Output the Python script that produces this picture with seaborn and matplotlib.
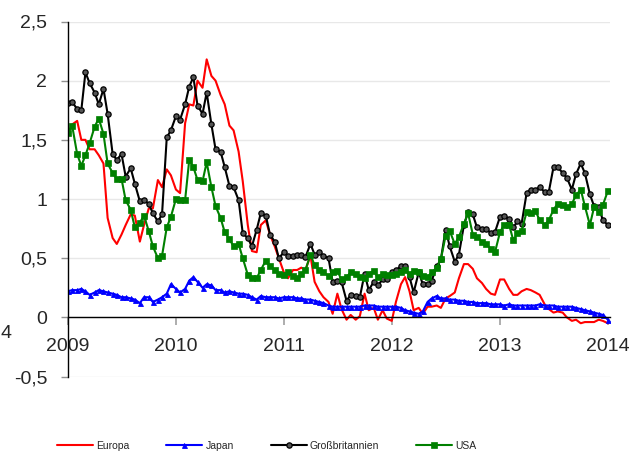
import numpy as np
import pandas as pd
import matplotlib
matplotlib.use('Agg')
import matplotlib.pyplot as plt
import matplotlib.dates as mdates
from matplotlib.ticker import FixedLocator, FixedFormatter
import seaborn as sns

sns.set_style('white')
plt.rcParams['font.family'] = ['Liberation Sans', 'DejaVu Sans']

# semi-monthly observations, Jan 2009 - Jan 2014
dates = pd.date_range('2009-01-01', '2014-01-01', freq='SMS')

europa = [1.55, 1.63, 1.66, 1.50, 1.50, 1.42, 1.42, 1.37, 1.30, 0.84, 0.67, 0.62,
          0.70, 0.78, 0.87, 0.86, 0.64, 0.78, 0.92, 0.92, 1.16, 1.10, 1.25, 1.20,
          1.08, 1.05, 1.64, 1.80, 1.79, 2.00, 1.94, 2.18, 2.04, 2.00, 1.88, 1.80,
          1.62, 1.58, 1.40, 1.15, 0.78, 0.56, 0.55, 0.78, 0.82, 0.70, 0.60, 0.50,
          0.38, 0.33, 0.40, 0.40, 0.42, 0.40, 0.52, 0.30, 0.22, 0.17, 0.13, 0.03,
          0.20, 0.07, -0.02, 0.02, -0.02, 0.01, 0.20, 0.06, 0.08, -0.02, 0.06, -0.01,
          -0.03, 0.13, 0.28, 0.34, 0.22, 0.06, 0.08, 0.03, 0.09, 0.09, 0.10, 0.08,
          0.16, 0.18, 0.21, 0.33, 0.45, 0.45, 0.41, 0.33, 0.29, 0.24, 0.20, 0.19,
          0.32, 0.32, 0.24, 0.19, 0.19, 0.22, 0.24, 0.23, 0.21, 0.19, 0.11, 0.07,
          0.04, 0.05, 0.04, 0.00, -0.03, -0.02, -0.05, -0.04, -0.04, -0.04, -0.02, -0.03,
          -0.05]

japan = [0.22, 0.23, 0.23, 0.24, 0.22, 0.19, 0.21, 0.23, 0.22, 0.21, 0.20, 0.19,
         0.17, 0.17, 0.16, 0.15, 0.12, 0.17, 0.17, 0.13, 0.15, 0.17, 0.20, 0.28,
         0.24, 0.21, 0.24, 0.31, 0.34, 0.30, 0.25, 0.28, 0.27, 0.23, 0.23, 0.21,
         0.22, 0.21, 0.20, 0.20, 0.19, 0.17, 0.15, 0.18, 0.17, 0.17, 0.17, 0.16,
         0.17, 0.17, 0.17, 0.16, 0.16, 0.15, 0.15, 0.14, 0.13, 0.12, 0.10, 0.09,
         0.09, 0.09, 0.09, 0.09, 0.09, 0.09, 0.10, 0.10, 0.10, 0.09, 0.09, 0.09,
         0.09, 0.09, 0.08, 0.06, 0.05, 0.04, 0.03, 0.05, 0.13, 0.16, 0.18, 0.16,
         0.16, 0.15, 0.15, 0.14, 0.14, 0.13, 0.13, 0.12, 0.12, 0.12, 0.11, 0.11,
         0.11, 0.10, 0.11, 0.10, 0.10, 0.10, 0.10, 0.10, 0.10, 0.11, 0.10, 0.10,
         0.10, 0.09, 0.09, 0.09, 0.09, 0.08, 0.07, 0.06, 0.05, 0.04, 0.03, 0.02,
         -0.02]

grossbritannien = [1.81, 1.82, 1.76, 1.75, 2.07, 1.98, 1.90, 1.80, 1.93, 1.72, 1.38, 1.33,
                   1.38, 1.19, 1.26, 1.13, 0.98, 0.99, 0.96, 0.88, 0.81, 0.87, 1.52, 1.58,
                   1.70, 1.67, 1.80, 1.95, 2.03, 1.79, 1.72, 1.90, 1.63, 1.42, 1.40, 1.27,
                   1.11, 1.10, 0.99, 0.71, 0.67, 0.60, 0.74, 0.88, 0.86, 0.70, 0.64, 0.50,
                   0.55, 0.52, 0.52, 0.53, 0.53, 0.51, 0.62, 0.53, 0.55, 0.52, 0.50, 0.30,
                   0.31, 0.30, 0.14, 0.19, 0.18, 0.17, 0.37, 0.23, 0.30, 0.27, 0.32, 0.32,
                   0.38, 0.40, 0.43, 0.43, 0.34, 0.21, 0.38, 0.28, 0.28, 0.31, 0.43, 0.49,
                   0.74, 0.60, 0.47, 0.53, 0.78, 0.89, 0.87, 0.76, 0.75, 0.75, 0.71, 0.72,
                   0.85, 0.86, 0.83, 0.76, 0.81, 0.79, 1.05, 1.08, 1.08, 1.10, 1.06, 1.06,
                   1.27, 1.27, 1.22, 1.18, 1.08, 1.21, 1.30, 1.22, 1.04, 0.94, 0.93, 0.82,
                   0.78]

usa = [1.56, 1.62, 1.38, 1.28, 1.37, 1.47, 1.61, 1.68, 1.55, 1.30, 1.22, 1.17,
       1.17, 0.99, 0.91, 0.76, 0.80, 0.86, 0.73, 0.60, 0.50, 0.52, 0.76, 0.85,
       1.00, 0.99, 0.99, 1.33, 1.27, 1.16, 1.15, 1.31, 1.10, 0.94, 0.84, 0.72,
       0.66, 0.60, 0.62, 0.50, 0.36, 0.33, 0.33, 0.40, 0.48, 0.43, 0.40, 0.37,
       0.36, 0.38, 0.35, 0.33, 0.37, 0.40, 0.53, 0.44, 0.40, 0.38, 0.35, 0.38,
       0.39, 0.32, 0.34, 0.38, 0.37, 0.34, 0.33, 0.37, 0.39, 0.34, 0.37, 0.36,
       0.36, 0.37, 0.38, 0.40, 0.37, 0.39, 0.38, 0.35, 0.34, 0.38, 0.42, 0.49,
       0.69, 0.73, 0.62, 0.68, 0.79, 0.88, 0.70, 0.68, 0.64, 0.62, 0.58, 0.55,
       0.72, 0.78, 0.78, 0.65, 0.71, 0.73, 0.89, 0.88, 0.90, 0.82, 0.78, 0.82,
       0.91, 0.96, 0.95, 0.93, 0.96, 1.03, 1.08, 0.94, 0.78, 0.93, 0.89, 0.95,
       1.07]

series_names = ['Europa', 'Japan', 'Großbritannien', 'USA']
y_ticks = [-0.5, 0, 0.5, 1, 1.5, 2, 2.5]
y_tick_labels = ['-0,5', '0', '0,5', '1', '1,5', '2', '2,5']

W, H = 635, 459
fig = plt.figure(figsize=(W / 100, H / 100), dpi=100)
ax = fig.add_axes([68 / W, 1 - 376.5 / H, (610 - 68) / W, (376.5 - 21.5) / H])

styles = [
    dict(color='#ff0000', marker=None),
    dict(color='#0000ff', marker='^', markersize=3.6, markeredgewidth=0.6, markeredgecolor='#0000ff'),
    dict(color='#000000', marker='o', markersize=3.8, markeredgewidth=0.9,
         markeredgecolor='#000000', markerfacecolor='#555555'),
    dict(color='#008000', marker='s', markersize=4.2, markeredgewidth=0.5, markeredgecolor='#008000'),
]
for name, vals, st in zip(series_names, [europa, japan, grossbritannien, usa], styles):
    sns.lineplot(x=dates, y=vals, ax=ax, label=name, linewidth=1.5, **st)

handles, labels = ax.get_legend_handles_labels()
ax.get_legend().remove()

ax.set_ylim(-0.5, 2.5)
ax.set_xlim(pd.Timestamp('2009-01-01'), pd.Timestamp('2014-01-08'))
ax.yaxis.set_major_locator(FixedLocator(y_ticks))
ax.yaxis.set_major_formatter(FixedFormatter(y_tick_labels))
ax.xaxis.set_major_locator(mdates.YearLocator())
ax.xaxis.set_major_formatter(mdates.DateFormatter('%Y'))
ax.set_xlabel('')
ax.set_ylabel('')

ax.set_axisbelow(True)
ax.yaxis.grid(True, color='#e8e8e8', linewidth=1)
ax.xaxis.grid(False)
for s in ['top', 'right']:
    ax.spines[s].set_visible(False)
ax.spines['bottom'].set_position(('data', 0))
ax.spines['bottom'].set_color('black')
ax.spines['bottom'].set_linewidth(1.0)
ax.spines['left'].set_color('black')
ax.spines['left'].set_linewidth(1.0)

ax.tick_params(axis='y', direction='out', length=5, width=1, color='#909090',
               pad=10, labelsize=14, left=True)
ax.tick_params(axis='x', direction='out', length=6, width=1.2, color='#a0a0a0',
               pad=9, labelsize=14, bottom=True)

fig.text(0.5 / W, 1 - 334 / H, '4', fontsize=14, va='center', ha='left')

fig.legend(handles, labels, loc='center left', bbox_to_anchor=(57 / W, 1 - 446 / H),
           ncol=4, frameon=False, fontsize=7.5, handlelength=3.45,
           handletextpad=0.3, columnspacing=3.55, borderaxespad=0, borderpad=0)

fig.savefig('out.png', dpi=100)
